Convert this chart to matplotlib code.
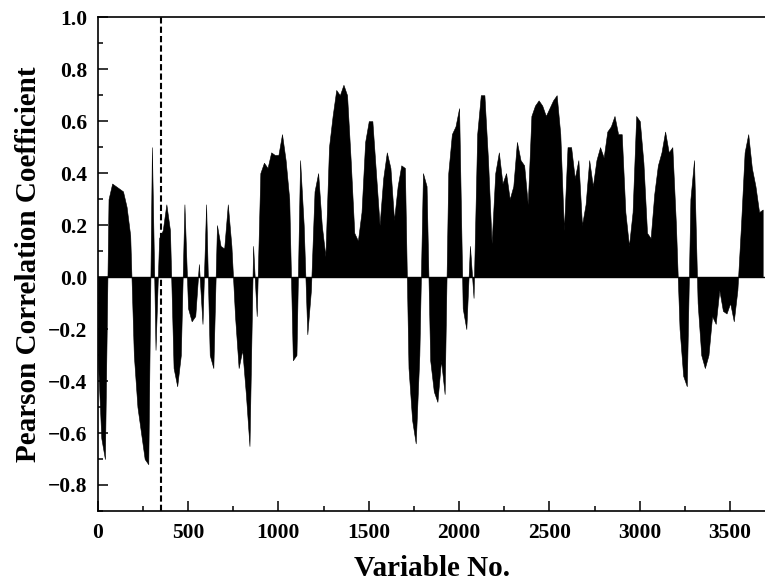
import numpy as np
import matplotlib
matplotlib.use('Agg')
import matplotlib.pyplot as plt
from matplotlib.ticker import MultipleLocator

plt.rcParams['font.family'] = ['Liberation Serif', 'DejaVu Serif']
plt.rcParams['font.weight'] = 'bold'

# variable numbers, sampled every 20 variables
variables = np.arange(0, 3700, 20)

# Pearson correlation coefficient
coef = [
    -0.30, -0.62, -0.70, 0.30, 0.36, 0.35, 0.34, 0.33, 0.27, 0.16,      # 0-180
    -0.30, -0.50, -0.60, -0.70, -0.72, 0.50, -0.28, 0.15, 0.18, 0.28,   # 200-380
    0.18, -0.35, -0.42, -0.30, 0.28, -0.12, -0.17, -0.15, 0.05, -0.18,  # 400-580
    0.28, -0.30, -0.35, 0.20, 0.12, 0.11, 0.28, 0.12, -0.15, -0.35,     # 600-780
    -0.28, -0.45, -0.65, 0.12, -0.15, 0.40, 0.44, 0.42, 0.48, 0.47,     # 800-980
    0.47, 0.55, 0.45, 0.30, -0.32, -0.30, 0.45, 0.20, -0.22, -0.05,     # 1000-1180
    0.33, 0.40, 0.20, 0.08, 0.50, 0.62, 0.72, 0.70, 0.74, 0.70,         # 1200-1380
    0.45, 0.17, 0.14, 0.25, 0.52, 0.60, 0.60, 0.40, 0.20, 0.38,         # 1400-1580
    0.48, 0.42, 0.22, 0.35, 0.43, 0.42, -0.35, -0.55, -0.64, -0.30,     # 1600-1780
    0.40, 0.35, -0.32, -0.44, -0.48, -0.32, -0.45, 0.40, 0.55, 0.58,    # 1800-1980
    0.65, -0.12, -0.20, 0.12, -0.08, 0.55, 0.70, 0.70, 0.45, 0.13,      # 2000-2180
    0.40, 0.48, 0.36, 0.40, 0.30, 0.35, 0.52, 0.45, 0.43, 0.28,         # 2200-2380
    0.62, 0.66, 0.68, 0.66, 0.62, 0.65, 0.68, 0.70, 0.55, 0.18,         # 2400-2580
    0.50, 0.50, 0.38, 0.45, 0.20, 0.28, 0.45, 0.35, 0.45, 0.50,         # 2600-2780
    0.46, 0.56, 0.58, 0.62, 0.55, 0.55, 0.25, 0.12, 0.25, 0.62,         # 2800-2980
    0.60, 0.44, 0.17, 0.15, 0.32, 0.43, 0.48, 0.56, 0.48, 0.50,         # 3000-3180
    0.20, -0.20, -0.38, -0.42, 0.30, 0.45, -0.10, -0.30, -0.35, -0.30,  # 3200-3380
    -0.15, -0.18, -0.05, -0.13, -0.14, -0.10, -0.17, -0.05, 0.20, 0.48, # 3400-3580
    0.55, 0.42, 0.35, 0.25, 0.26,                                       # 3600-3680
]
coef = np.array(coef)

fig = plt.figure(figsize=(7.65, 5.88), dpi=100)
ax = fig.add_axes([0.1277, 0.131, 0.874, 0.8397])

ax.fill_between(variables, 0, coef, color='black', linewidth=0.4, edgecolor='black')
ax.axhline(0, color='black', linewidth=1.0)
ax.axvline(350, color='black', linestyle=(0, (3, 1.5)), linewidth=1.5)

ax.set_xlim(0, 3700)
ax.set_ylim(-0.9, 1.0)
ax.xaxis.set_major_locator(MultipleLocator(500))
ax.xaxis.set_minor_locator(MultipleLocator(250))
ax.yaxis.set_major_locator(MultipleLocator(0.2))
ax.yaxis.set_minor_locator(MultipleLocator(0.1))
ax.tick_params(which='major', direction='in', length=7, width=1.1, labelsize=15.5)
ax.tick_params(which='minor', direction='in', length=3.5, width=1.1)
ax.tick_params(axis='x', which='major', pad=9)
ax.tick_params(axis='y', which='major', pad=7.5)

for s in ['left', 'bottom', 'top']:
    ax.spines[s].set_linewidth(1.2)
ax.spines['right'].set_visible(False)

ax.set_xlabel('Variable No.', fontsize=21, fontweight='bold', labelpad=8)
ax.set_ylabel('Pearson Correlation Coefficient', fontsize=21, fontweight='bold', labelpad=4)

fig.savefig('out.png', dpi=100)
